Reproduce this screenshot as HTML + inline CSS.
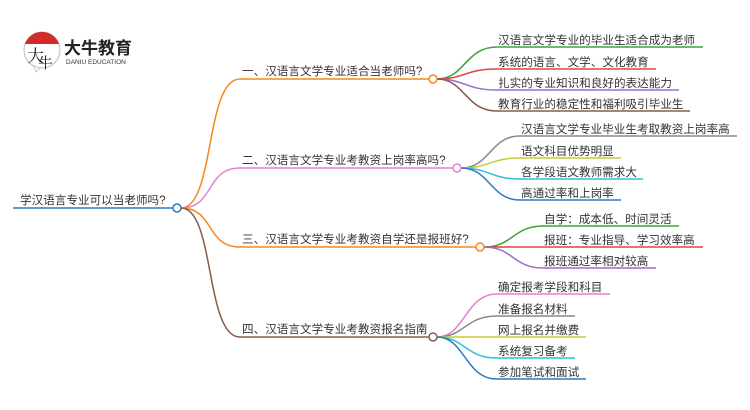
<!DOCTYPE html>
<html><head><meta charset="utf-8"><style>
html,body{margin:0;padding:0;background:#fff;}
svg{display:block}
text{font-family:"Liberation Sans","Noto Sans CJK SC",sans-serif;fill:#333;font-size:11.6px}
</style></head><body>
<svg width="750" height="410" viewBox="0 0 750 410" xmlns="http://www.w3.org/2000/svg">
<!-- logo -->
<circle cx="42" cy="50" r="18" fill="#fff" stroke="#bbb" stroke-width="1"/>
<path d="M25,44 A18,18 0 0 1 59,44 Z" fill="#d42a2a"/>
<path d="M34,66 L40,68 L36,72 Z" fill="#fff" stroke="#bbb" stroke-width="0.8"/>
<text x="27" y="62" style="font-size:17px;fill:#222;font-family:'Noto Serif CJK SC',serif">大</text>
<text x="38" y="68" style="font-size:15px;fill:#222;font-family:'Noto Serif CJK SC',serif">牛</text>
<text x="64" y="54" style="font-size:17px;font-weight:bold;fill:#222">大牛教育</text>
<text x="66" y="64" style="font-size:6.5px;fill:#333">DANIU EDUCATION</text>

<!-- root -->
<text x="20" y="204">学汉语言专业可以当老师吗?</text>
<line x1="13" y1="208" x2="173" y2="208" stroke="#2f7ac0" stroke-width="1.5"/>

<path d="M181,208 C215,208 205,79 240,79" fill="none" stroke="#f5871f" stroke-width="1.5"/>
<path d="M181,208 C215,208 205,168 240,168" fill="none" stroke="#e87fd0" stroke-width="1.5"/>
<path d="M181,208 C215,208 205,247 240,247" fill="none" stroke="#f5871f" stroke-width="1.5"/>
<path d="M181,208 C215,208 205,337 240,337" fill="none" stroke="#8b5a4a" stroke-width="1.5"/>
<circle cx="177" cy="208" r="4" fill="#fff" stroke="#2f7ac0" stroke-width="1.5"/>

<!-- branch 1 -->
<text x="242" y="75">一、汉语言文学专业适合当老师吗?</text>
<line x1="240" y1="79" x2="429" y2="79" stroke="#f5871f" stroke-width="1.5"/>
<path d="M437,79 C465,79 465,47 497,47 L703,47" fill="none" stroke="#3aa53a" stroke-width="1.5"/>
<path d="M437,79 C465,79 465,69 497,69 L656,69" fill="none" stroke="#e04444" stroke-width="1.5"/>
<path d="M437,79 C465,79 465,90 497,90 L679,90" fill="none" stroke="#9b6cc9" stroke-width="1.5"/>
<path d="M437,79 C465,79 465,111 497,111 L690,111" fill="none" stroke="#8b5a4a" stroke-width="1.5"/>
<circle cx="433" cy="79" r="4" fill="#fff" stroke="#f5871f" stroke-width="1.5"/>
<text x="498" y="44">汉语言文学专业的毕业生适合成为老师</text>
<text x="498" y="66">系统的语言、文学、文化教育</text>
<text x="498" y="87">扎实的专业知识和良好的表达能力</text>
<text x="498" y="108">教育行业的稳定性和福利吸引毕业生</text>

<!-- branch 2 -->
<text x="242" y="164">二、汉语言文学专业考教资上岗率高吗?</text>
<line x1="240" y1="168" x2="453" y2="168" stroke="#e87fd0" stroke-width="1.5"/>
<path d="M461,168 C490,168 490,136 520,136 L737,136" fill="none" stroke="#888" stroke-width="1.5"/>
<path d="M461,168 C490,168 490,158 520,158 L621,158" fill="none" stroke="#c8c83a" stroke-width="1.5"/>
<path d="M461,168 C490,168 490,179 520,179 L643,179" fill="none" stroke="#2bc0d8" stroke-width="1.5"/>
<path d="M461,168 C490,168 490,200 520,200 L621,200" fill="none" stroke="#2f7ac0" stroke-width="1.5"/>
<circle cx="457" cy="168" r="4" fill="#fff" stroke="#e87fd0" stroke-width="1.5"/>
<text x="521" y="133">汉语言文学专业毕业生考取教资上岗率高</text>
<text x="521" y="155">语文科目优势明显</text>
<text x="521" y="176">各学段语文教师需求大</text>
<text x="521" y="197">高通过率和上岗率</text>

<!-- branch 3 -->
<text x="242" y="243">三、汉语言文学专业考教资自学还是报班好?</text>
<line x1="240" y1="247" x2="476" y2="247" stroke="#f5871f" stroke-width="1.5"/>
<path d="M484,247 C513,247 513,226 543,226 L679,226" fill="none" stroke="#3aa53a" stroke-width="1.5"/>
<path d="M484,247 L703,247" fill="none" stroke="#e04444" stroke-width="1.5"/>
<path d="M484,247 C513,247 513,268 543,268 L656,268" fill="none" stroke="#9b6cc9" stroke-width="1.5"/>
<circle cx="480" cy="247" r="4" fill="#fff" stroke="#f5871f" stroke-width="1.5"/>
<text x="544" y="223">自学：成本低、时间灵活</text>
<text x="544" y="244">报班：专业指导、学习效率高</text>
<text x="544" y="265">报班通过率相对较高</text>

<!-- branch 4 -->
<text x="242" y="333">四、汉语言文学专业考教资报名指南</text>
<line x1="240" y1="337" x2="429" y2="337" stroke="#8b5a4a" stroke-width="1.5"/>
<path d="M437,337 C465,337 465,294 497,294 L610,294" fill="none" stroke="#e87fd0" stroke-width="1.5"/>
<path d="M437,337 C465,337 465,316 497,316 L575,316" fill="none" stroke="#888" stroke-width="1.5"/>
<path d="M437,337 L586,337" fill="none" stroke="#c8c83a" stroke-width="1.5"/>
<path d="M437,337 C465,337 465,358 497,358 L575,358" fill="none" stroke="#2bc0d8" stroke-width="1.5"/>
<path d="M437,337 C465,337 465,379 497,379 L586,379" fill="none" stroke="#2f7ac0" stroke-width="1.5"/>
<circle cx="433" cy="337" r="4" fill="#fff" stroke="#8b5a4a" stroke-width="1.5"/>
<text x="498" y="291">确定报考学段和科目</text>
<text x="498" y="313">准备报名材料</text>
<text x="498" y="334">网上报名并缴费</text>
<text x="498" y="355">系统复习备考</text>
<text x="498" y="376">参加笔试和面试</text>
</svg>
</body></html>
